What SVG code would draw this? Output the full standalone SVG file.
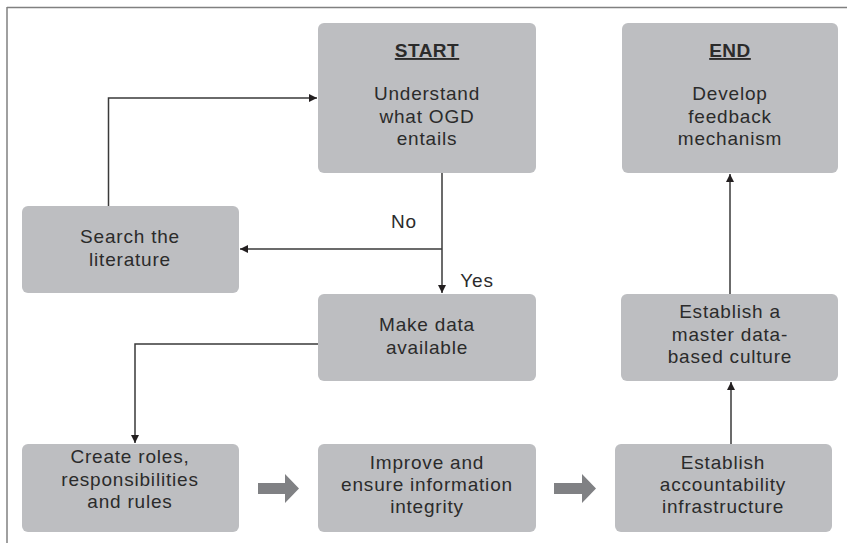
<svg xmlns="http://www.w3.org/2000/svg" width="847" height="543" viewBox="0 0 847 543">
<defs>
<style>
.box{fill:#bdbec1;}
.t{font-family:"Liberation Sans",Arial,sans-serif;font-size:19px;letter-spacing:0.8px;fill:#2b2b2b;text-anchor:middle;}
.h{font-weight:bold;text-decoration:underline;letter-spacing:0.5px;}
.ln{fill:none;stroke:#3a3a3a;stroke-width:1.5;}
.lbl{font-family:"Liberation Sans",Arial,sans-serif;font-size:19px;letter-spacing:0.8px;fill:#2b2b2b;}
.blk{fill:#808184;}
</style>
<marker id="ah" viewBox="0 0 10 10" refX="10" refY="5" markerWidth="8" markerHeight="8" markerUnits="userSpaceOnUse" orient="auto">
<path d="M0,0 L10,5 L0,10 Z" fill="#231f20"/>
</marker>
</defs>
<rect width="847" height="543" fill="#ffffff"/>
<g id="frame">
<line x1="7" y1="7.5" x2="847" y2="7.5" stroke="#808080" stroke-width="1.5"/>
<line x1="7" y1="7" x2="7" y2="543" stroke="#808080" stroke-width="1.5"/>
</g>
<g id="connectors">
<path class="ln" d="M108.5,206 V98 H317" marker-end="url(#ah)"/>
<path class="ln" d="M442,173 V293" marker-end="url(#ah)"/>
<path class="ln" d="M442,249 H240" marker-end="url(#ah)"/>
<path class="ln" d="M318,344 H135 V443" marker-end="url(#ah)"/>
<path class="ln" d="M731,444 V382" marker-end="url(#ah)"/>
<path class="ln" d="M730,294 V174" marker-end="url(#ah)"/>
<path class="blk" d="M258,483 H285 V474 L299,488.5 L285,503 V494 H258 Z"/>
<path class="blk" d="M554,483 H582 V474 L596,488.5 L582,503 V494 H554 Z"/>
<text class="lbl" x="404" y="228" text-anchor="middle">No</text>
<text class="lbl" x="477" y="287" text-anchor="middle">Yes</text>
</g>
<g id="start">
<rect class="box" x="318" y="23" width="218" height="150" rx="6"/>
<text class="t h" x="427" y="57">START</text>
<text class="t" x="427" y="100">Understand<tspan x="427" dy="22.5">what OGD</tspan><tspan x="427" dy="22.5">entails</tspan></text>
</g>
<g id="end">
<rect class="box" x="622" y="23" width="216" height="150" rx="6"/>
<text class="t h" x="730" y="57">END</text>
<text class="t" x="730" y="100">Develop<tspan x="730" dy="22.5">feedback</tspan><tspan x="730" dy="22.5">mechanism</tspan></text>
</g>
<g id="search">
<rect class="box" x="22" y="206" width="217" height="87" rx="6"/>
<text class="t" x="130" y="243">Search the<tspan x="130" dy="22.5">literature</tspan></text>
</g>
<g id="makedata">
<rect class="box" x="318" y="294" width="218" height="87" rx="6"/>
<text class="t" x="427" y="331">Make data<tspan x="427" dy="22.5">available</tspan></text>
</g>
<g id="master">
<rect class="box" x="621" y="294" width="217" height="87" rx="6"/>
<text class="t" x="730" y="318">Establish a<tspan x="730" dy="22.5">master data-</tspan><tspan x="730" dy="22.5">based culture</tspan></text>
</g>
<g id="roles">
<rect class="box" x="22" y="444" width="217" height="88" rx="6"/>
<text class="t" x="130" y="463">Create roles,<tspan x="130" dy="22.5">responsibilities</tspan><tspan x="130" dy="22.5">and rules</tspan></text>
</g>
<g id="improve">
<rect class="box" x="318" y="444" width="218" height="88" rx="6"/>
<text class="t" x="427" y="469">Improve and<tspan x="427" dy="22">ensure information</tspan><tspan x="427" dy="22">integrity</tspan></text>
</g>
<g id="accountability">
<rect class="box" x="615" y="444" width="217" height="88" rx="6"/>
<text class="t" x="723" y="469">Establish<tspan x="723" dy="22">accountability</tspan><tspan x="723" dy="22">infrastructure</tspan></text>
</g>
</svg>
